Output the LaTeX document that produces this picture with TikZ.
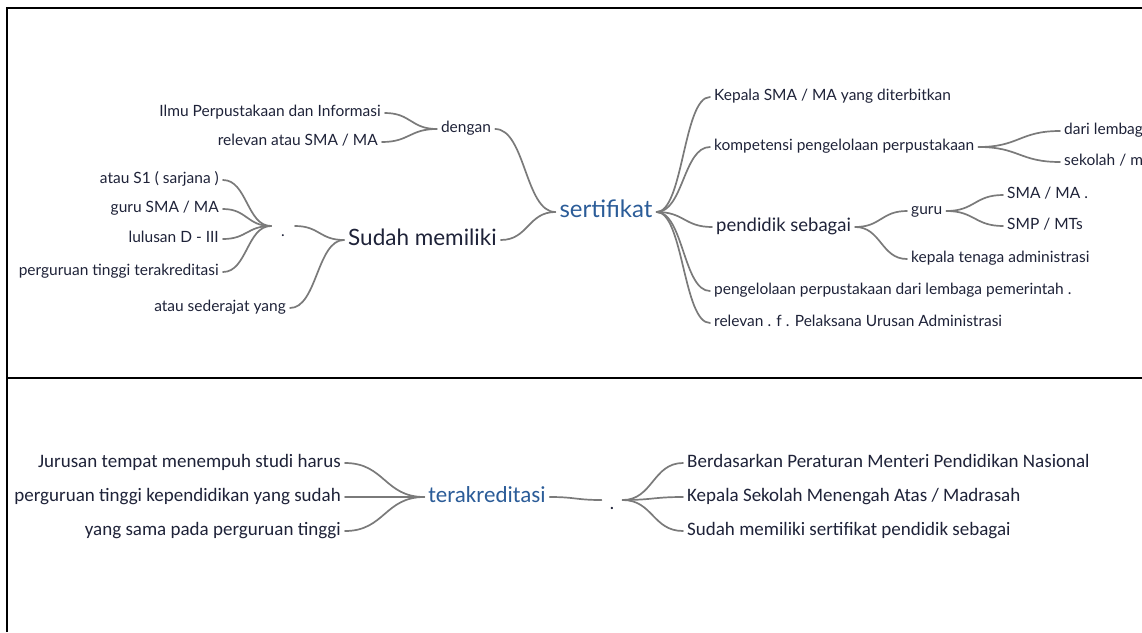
\documentclass[tikz,border=0pt]{standalone}
\usepackage{fontspec}
\usetikzlibrary{calc}
\newfontfamily\lato{Lato}
\newfontfamily\carl{Carlito}
\definecolor{ink}{HTML}{1E2238}
\definecolor{topicblue}{HTML}{2B5C98}
\definecolor{linkgray}{HTML}{7A7A7A}
\begin{document}
\begin{tikzpicture}[x=1pt,y=-1pt,
  lab/.style={font=\lato\fontsize{15.5}{18}\selectfont, text=ink, inner xsep=4pt, inner ysep=2.5pt,
              text height=11pt, text depth=4pt},
  big/.style={lab, font=\lato\fontsize{22.5}{26}\selectfont, text height=16pt, text depth=5pt},
  mid/.style={lab, font=\lato\fontsize{18.5}{22}\selectfont, text height=13pt, text depth=4.5pt},
  topic/.style={lab, font=\lato\fontsize{24}{28}\selectfont, text=topicblue,
                text height=17pt, text depth=6pt},
  blab/.style={font=\carl\fontsize{19}{22}\selectfont, text=ink, inner xsep=4pt, inner ysep=3pt,
               text height=13pt, text depth=4.5pt},
  btopic/.style={blab, font=\carl\fontsize{23}{27}\selectfont, text=topicblue,
                 text height=16pt, text depth=5.5pt},
  dotnode/.style={inner ysep=0pt, text=ink},
  link/.style={draw=linkgray, line width=1.7pt, line cap=round},
  branch/.style={to path={.. controls ($(\tikztostart)!#1!(\tikztostart -| \tikztotarget)$)
      and ($(\tikztotarget)!#1!(\tikztotarget -| \tikztostart)$) .. (\tikztotarget)}},
  branch/.default=0.5,
  frame/.style={draw=black, line width=1.2pt}]
\useasboundingbox (0,0) rectangle (1142,632);
\clip (0,0) rectangle (1142,632);

% panel rules
\draw[frame] (7,632) -- (7,8) -- (1142,8);
\draw[frame] (7,378) -- (1142,378);

% ---------- upper map ----------
\node[topic, anchor=center] (sert) at (606,212) {sertifikat};

\node[lab, anchor=center] (dengan) at (466,129) {dengan};
\node[lab, anchor=east] (ilmu) at (385,113) {Ilmu Perpustakaan dan Informasi};
\node[lab, anchor=east] (relev) at (382,142) {relevan atau SMA / MA};

\node[big, anchor=west] (sudah) at (344,240) {Sudah memiliki};
\node[lab, dotnode, inner xsep=10pt] (dotA) at (283,226) {\raisebox{-7pt}[0pt][0pt]{.}};
\node[lab, anchor=east] (seder) at (290,308) {atau sederajat yang};
\node[lab, anchor=east] (s1) at (223,180) {atau S1 ( sarjana )};
\node[lab, anchor=east] (guruA) at (223,209) {guru SMA / MA};
\node[lab, anchor=east] (lulus) at (223,239) {lulusan D - III};
\node[lab, anchor=east] (pergu) at (223,272) {perguruan tinggi terakreditasi};

\node[lab, anchor=west] (kepala) at (710,97) {Kepala SMA / MA yang diterbitkan};
\node[lab, anchor=west] (komp) at (710,147) {kompetensi pengelolaan perpustakaan};
\node[lab, anchor=west] (dari) at (1060,131) {dari lembaga};
\node[lab, anchor=west] (sekolah) at (1060,162) {sekolah / madrasah};
\node[mid, anchor=west] (pend) at (712,227) {pendidik sebagai};
\node[lab, anchor=west] (guruB) at (907,211) {guru};
\node[lab, anchor=west] (smama) at (1003,195) {SMA / MA .};
\node[lab, anchor=west] (smp) at (1003,226) {SMP / MTs};
\node[lab, anchor=west] (tenaga) at (907,259) {kepala tenaga administrasi};
\node[lab, anchor=west] (pengel) at (710,291) {pengelolaan perpustakaan dari lembaga pemerintah .};
\node[lab, anchor=west] (relevf) at (710,323) {relevan . f . Pelaksana Urusan Administrasi};

\draw[link] (sert.west) to[branch] (dengan.east);
\draw[link] (sert.west) to[branch] (sudah.east);
\draw[link] (dengan.west) to[branch] (ilmu.east);
\draw[link] (dengan.west) to[branch] (relev.east);
\draw[link] (sudah.west) to[branch] (dotA.east);
\draw[link] (sudah.west) to[branch] (seder.east);
\foreach \c in {s1,guruA,lulus,pergu}
  \draw[link] (dotA.west) to[branch] (\c.east);
\foreach \c in {kepala,komp,pend,pengel,relevf}
  \draw[link] (sert.east) to[branch] (\c.west);
\draw[link] (komp.east) to[branch] (dari.west);
\draw[link] (komp.east) to[branch] (sekolah.west);
\draw[link] (pend.east) to[branch] (guruB.west);
\draw[link] (pend.east) to[branch] (tenaga.west);
\draw[link] (guruB.east) to[branch] (smama.west);
\draw[link] (guruB.east) to[branch] (smp.west);

% ---------- lower map ----------
\node[btopic, anchor=center] (terak) at (487,497) {terakreditasi};
\node[blab, anchor=east] (jur) at (345,463) {Jurusan tempat menempuh studi harus};
\node[blab, anchor=east] (ptk) at (345,497) {perguruan tinggi kependidikan yang sudah};
\node[blab, anchor=east] (ysama) at (345,531) {yang sama pada perguruan tinggi};
\node[blab, dotnode, inner xsep=8pt] (dotB) at (612,500) {\raisebox{-5pt}[0pt][0pt]{.}};
\node[blab, anchor=west] (berd) at (683,463) {Berdasarkan Peraturan Menteri Pendidikan Nasional};
\node[blab, anchor=west] (kep2) at (683,497) {Kepala Sekolah Menengah Atas / Madrasah};
\node[blab, anchor=west] (sud2) at (683,531) {Sudah memiliki sertifikat pendidik sebagai};

\foreach \c in {jur,ptk,ysama}
  \draw[link] (terak.west) to[branch] (\c.east);
\draw[link] (terak.east) to[branch] (dotB.west);
\foreach \c in {berd,kep2,sud2}
  \draw[link] (dotB.east) to[branch] (\c.west);
\end{tikzpicture}
\end{document}
